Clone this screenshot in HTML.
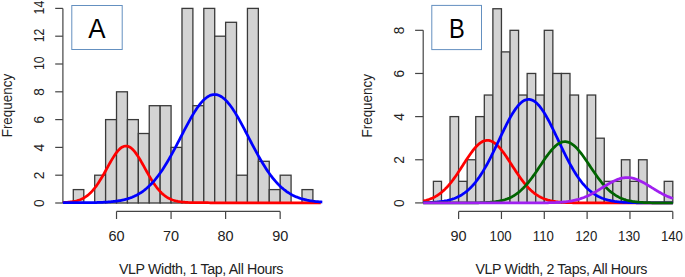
<!DOCTYPE html><html><head><meta charset="utf-8"><style>html,body{margin:0;padding:0;background:#fff;width:685px;height:277px;overflow:hidden}svg{display:block}</style></head><body><svg width="685" height="277" viewBox="0 0 685 277"><g fill="#d3d3d3" stroke="#3a3a3a" stroke-width="1.3"><rect x="73.30" y="189.60" width="10.49" height="13.40"/><rect x="94.70" y="175.20" width="10.91" height="27.80"/><rect x="105.61" y="119.60" width="10.91" height="83.40"/><rect x="116.52" y="91.80" width="10.91" height="111.20"/><rect x="127.43" y="119.60" width="10.91" height="83.40"/><rect x="138.34" y="133.50" width="10.91" height="69.50"/><rect x="149.25" y="105.70" width="10.91" height="97.30"/><rect x="160.16" y="105.70" width="10.91" height="97.30"/><rect x="171.07" y="147.40" width="10.91" height="55.60"/><rect x="181.98" y="8.40" width="10.91" height="194.60"/><rect x="192.89" y="105.70" width="10.91" height="97.30"/><rect x="203.80" y="8.40" width="10.91" height="194.60"/><rect x="214.71" y="36.20" width="10.91" height="166.80"/><rect x="225.62" y="22.30" width="10.91" height="180.70"/><rect x="236.53" y="175.20" width="10.91" height="27.80"/><rect x="247.44" y="8.40" width="10.91" height="194.60"/><rect x="258.35" y="161.30" width="10.91" height="41.70"/><rect x="269.26" y="189.60" width="10.91" height="13.40"/><rect x="280.17" y="175.20" width="10.91" height="27.80"/><rect x="301.99" y="189.60" width="10.91" height="13.40"/></g><g stroke="#444" stroke-width="1.2" fill="none"><path d="M62.9,203.00 V8.40"/><path d="M55.2,203.00 H62.9"/><path d="M55.2,175.20 H62.9"/><path d="M55.2,147.40 H62.9"/><path d="M55.2,119.60 H62.9"/><path d="M55.2,91.80 H62.9"/><path d="M55.2,64.00 H62.9"/><path d="M55.2,36.20 H62.9"/><path d="M55.2,8.40 H62.9"/><path d="M116.52,211.4 H280.17"/><path d="M116.52,211.4 V219.0"/><path d="M171.07,211.4 V219.0"/><path d="M225.62,211.4 V219.0"/><path d="M280.17,211.4 V219.0"/></g><path d="M62.90,202.52 L63.97,202.47 L65.05,202.42 L66.12,202.35 L67.20,202.27 L68.27,202.18 L69.35,202.08 L70.42,201.96 L71.50,201.82 L72.57,201.65 L73.65,201.47 L74.72,201.25 L75.80,201.01 L76.87,200.73 L77.94,200.42 L79.02,200.06 L80.09,199.67 L81.17,199.22 L82.24,198.72 L83.32,198.17 L84.39,197.56 L85.47,196.89 L86.54,196.15 L87.62,195.34 L88.69,194.46 L89.76,193.50 L90.84,192.46 L91.91,191.35 L92.99,190.15 L94.06,188.87 L95.14,187.52 L96.21,186.08 L97.29,184.57 L98.36,182.98 L99.44,181.32 L100.51,179.60 L101.59,177.82 L102.66,175.98 L103.73,174.11 L104.81,172.20 L105.88,170.27 L106.96,168.32 L108.03,166.38 L109.11,164.45 L110.18,162.54 L111.26,160.68 L112.33,158.86 L113.41,157.12 L114.48,155.46 L115.55,153.90 L116.63,152.44 L117.70,151.11 L118.78,149.91 L119.85,148.86 L120.93,147.96 L122.00,147.22 L123.08,146.66 L124.15,146.26 L125.23,146.05 L126.30,146.02 L127.38,146.17 L128.45,146.50 L129.52,147.01 L130.60,147.68 L131.67,148.53 L132.75,149.53 L133.82,150.68 L134.90,151.96 L135.97,153.38 L137.05,154.91 L138.12,156.53 L139.20,158.25 L140.27,160.04 L141.34,161.89 L142.42,163.78 L143.49,165.70 L144.57,167.64 L145.64,169.59 L146.72,171.53 L147.79,173.45 L148.87,175.33 L149.94,177.18 L151.02,178.98 L152.09,180.73 L153.17,182.41 L154.24,184.02 L155.31,185.56 L156.39,187.03 L157.46,188.41 L158.54,189.72 L159.61,190.94 L160.69,192.08 L161.76,193.15 L162.84,194.13 L163.91,195.04 L164.99,195.87 L166.06,196.64 L167.13,197.33 L168.21,197.97 L169.28,198.54 L170.36,199.05 L171.43,199.52 L172.51,199.93 L173.58,200.30 L174.66,200.63 L175.73,200.92 L176.81,201.17 L177.88,201.40 L178.96,201.59 L180.03,201.76 L181.10,201.91 L182.18,202.04 L183.25,202.15 L184.33,202.24 L185.40,202.33 L186.48,202.40 L187.55,202.45 L188.63,202.50 L189.70,202.55 L190.78,202.58 L191.85,202.61 L192.92,202.64 L194.00,202.66 L195.07,202.67 L196.15,202.69 L197.22,202.70 L198.30,202.71 L199.37,202.72 L200.45,202.72 L201.52,202.73 L202.60,202.73 L203.67,202.74 L204.75,202.74 L205.82,202.74 L206.89,202.74 L207.97,202.74 L209.04,202.75 L210.12,202.75 L211.19,202.75 L212.27,202.75 L213.34,202.75 L214.42,202.75 L215.49,202.75 L216.57,202.75 L217.64,202.75 L218.71,202.75 L219.79,202.75 L220.86,202.75 L221.94,202.75 L223.01,202.75 L224.09,202.75 L225.16,202.75 L226.24,202.75 L227.31,202.75 L228.39,202.75 L229.46,202.75 L230.54,202.75 L231.61,202.75 L232.68,202.75 L233.76,202.75 L234.83,202.75 L235.91,202.75 L236.98,202.75 L238.06,202.75 L239.13,202.75 L240.21,202.75 L241.28,202.75 L242.36,202.75 L243.43,202.75 L244.50,202.75 L245.58,202.75 L246.65,202.75 L247.73,202.75 L248.80,202.75 L249.88,202.75 L250.95,202.75 L252.03,202.75 L253.10,202.75 L254.18,202.75 L255.25,202.75 L256.33,202.75 L257.40,202.75 L258.47,202.75 L259.55,202.75 L260.62,202.75 L261.70,202.75 L262.77,202.75 L263.85,202.75 L264.92,202.75 L266.00,202.75 L267.07,202.75 L268.15,202.75 L269.22,202.75 L270.29,202.75 L271.37,202.75 L272.44,202.75 L273.52,202.75 L274.59,202.75 L275.67,202.75 L276.74,202.75 L277.82,202.75 L278.89,202.75 L279.97,202.75 L281.04,202.75 L282.12,202.75 L283.19,202.75 L284.26,202.75 L285.34,202.75 L286.41,202.75 L287.49,202.75 L288.56,202.75 L289.64,202.75 L290.71,202.75 L291.79,202.75 L292.86,202.75 L293.94,202.75 L295.01,202.75 L296.08,202.75 L297.16,202.75 L298.23,202.75 L299.31,202.75 L300.38,202.75 L301.46,202.75 L302.53,202.75 L303.61,202.75 L304.68,202.75 L305.76,202.75 L306.83,202.75 L307.91,202.75 L308.98,202.75 L310.05,202.75 L311.13,202.75 L312.20,202.75 L313.28,202.75 L314.35,202.75 L315.43,202.75 L316.50,202.75 L317.58,202.75 L318.65,202.75 L319.73,202.75 L320.80,202.75" stroke="#f00" stroke-width="2.75" fill="none"/><path d="M62.90,202.75 L63.98,202.74 L65.06,202.74 L66.14,202.74 L67.22,202.74 L68.30,202.74 L69.39,202.74 L70.47,202.74 L71.55,202.74 L72.63,202.73 L73.71,202.73 L74.79,202.73 L75.87,202.73 L76.95,202.72 L78.03,202.72 L79.11,202.71 L80.19,202.71 L81.27,202.70 L82.36,202.70 L83.44,202.69 L84.52,202.68 L85.60,202.67 L86.68,202.66 L87.76,202.65 L88.84,202.64 L89.92,202.63 L91.00,202.61 L92.08,202.60 L93.16,202.58 L94.24,202.56 L95.33,202.53 L96.41,202.51 L97.49,202.48 L98.57,202.45 L99.65,202.41 L100.73,202.37 L101.81,202.33 L102.89,202.28 L103.97,202.23 L105.05,202.17 L106.13,202.11 L107.21,202.04 L108.30,201.97 L109.38,201.89 L110.46,201.80 L111.54,201.70 L112.62,201.59 L113.70,201.48 L114.78,201.35 L115.86,201.21 L116.94,201.06 L118.02,200.90 L119.10,200.73 L120.18,200.54 L121.27,200.33 L122.35,200.11 L123.43,199.87 L124.51,199.62 L125.59,199.34 L126.67,199.04 L127.75,198.73 L128.83,198.38 L129.91,198.02 L130.99,197.63 L132.07,197.21 L133.15,196.76 L134.24,196.29 L135.32,195.78 L136.40,195.25 L137.48,194.68 L138.56,194.07 L139.64,193.43 L140.72,192.75 L141.80,192.04 L142.88,191.28 L143.96,190.49 L145.04,189.65 L146.12,188.77 L147.21,187.84 L148.29,186.87 L149.37,185.85 L150.45,184.79 L151.53,183.68 L152.61,182.52 L153.69,181.31 L154.77,180.06 L155.85,178.75 L156.93,177.40 L158.01,176.00 L159.09,174.54 L160.18,173.04 L161.26,171.49 L162.34,169.90 L163.42,168.25 L164.50,166.57 L165.58,164.83 L166.66,163.06 L167.74,161.25 L168.82,159.39 L169.90,157.50 L170.98,155.58 L172.06,153.62 L173.15,151.64 L174.23,149.62 L175.31,147.59 L176.39,145.54 L177.47,143.47 L178.55,141.38 L179.63,139.29 L180.71,137.20 L181.79,135.10 L182.87,133.01 L183.95,130.93 L185.03,128.86 L186.12,126.81 L187.20,124.78 L188.28,122.78 L189.36,120.81 L190.44,118.88 L191.52,116.99 L192.60,115.15 L193.68,113.36 L194.76,111.62 L195.84,109.95 L196.92,108.34 L198.00,106.80 L199.09,105.34 L200.17,103.95 L201.25,102.65 L202.33,101.43 L203.41,100.31 L204.49,99.27 L205.57,98.33 L206.65,97.49 L207.73,96.75 L208.81,96.12 L209.89,95.59 L210.97,95.17 L212.06,94.86 L213.14,94.65 L214.22,94.56 L215.30,94.57 L216.38,94.70 L217.46,94.94 L218.54,95.28 L219.62,95.73 L220.70,96.29 L221.78,96.96 L222.86,97.73 L223.94,98.59 L225.03,99.56 L226.11,100.62 L227.19,101.78 L228.27,103.02 L229.35,104.35 L230.43,105.76 L231.51,107.24 L232.59,108.80 L233.67,110.43 L234.75,112.12 L235.83,113.87 L236.91,115.68 L238.00,117.54 L239.08,119.44 L240.16,121.38 L241.24,123.36 L242.32,125.37 L243.40,127.41 L244.48,129.46 L245.56,131.54 L246.64,133.62 L247.72,135.71 L248.80,137.81 L249.88,139.90 L250.97,141.99 L252.05,144.07 L253.13,146.13 L254.21,148.18 L255.29,150.21 L256.37,152.21 L257.45,154.19 L258.53,156.14 L259.61,158.05 L260.69,159.93 L261.77,161.78 L262.85,163.58 L263.94,165.34 L265.02,167.06 L266.10,168.74 L267.18,170.37 L268.26,171.95 L269.34,173.48 L270.42,174.97 L271.50,176.41 L272.58,177.80 L273.66,179.14 L274.74,180.43 L275.82,181.67 L276.91,182.86 L277.99,184.01 L279.07,185.10 L280.15,186.15 L281.23,187.16 L282.31,188.11 L283.39,189.03 L284.47,189.90 L285.55,190.72 L286.63,191.51 L287.71,192.25 L288.79,192.95 L289.88,193.62 L290.96,194.25 L292.04,194.85 L293.12,195.41 L294.20,195.93 L295.28,196.43 L296.36,196.90 L297.44,197.33 L298.52,197.74 L299.60,198.13 L300.68,198.49 L301.76,198.82 L302.85,199.13 L303.93,199.42 L305.01,199.69 L306.09,199.94 L307.17,200.18 L308.25,200.39 L309.33,200.59 L310.41,200.78 L311.49,200.95 L312.57,201.11 L313.65,201.25 L314.73,201.39 L315.81,201.51 L316.90,201.63 L317.98,201.73 L319.06,201.82 L320.14,201.91 L321.22,201.99 L322.30,202.06" stroke="#00f" stroke-width="2.75" fill="none"/><g fill="#d3d3d3" stroke="#3a3a3a" stroke-width="1.3"><rect x="433.40" y="181.34" width="8.08" height="21.57"/><rect x="450.04" y="116.61" width="8.57" height="86.30"/><rect x="458.61" y="181.34" width="8.57" height="21.57"/><rect x="467.18" y="159.76" width="8.57" height="43.15"/><rect x="475.74" y="116.61" width="8.57" height="86.30"/><rect x="484.31" y="95.04" width="8.57" height="107.87"/><rect x="492.88" y="8.74" width="8.57" height="194.17"/><rect x="501.45" y="51.89" width="8.57" height="151.02"/><rect x="510.01" y="30.32" width="8.57" height="172.59"/><rect x="518.58" y="95.04" width="8.57" height="107.87"/><rect x="527.15" y="73.47" width="8.57" height="129.44"/><rect x="535.72" y="95.04" width="8.57" height="107.87"/><rect x="544.28" y="30.32" width="8.57" height="172.59"/><rect x="552.85" y="73.47" width="8.57" height="129.44"/><rect x="561.42" y="73.47" width="8.57" height="129.44"/><rect x="569.99" y="95.04" width="8.57" height="107.87"/><rect x="587.12" y="95.04" width="8.57" height="107.87"/><rect x="595.69" y="138.19" width="8.57" height="64.72"/><rect x="604.26" y="181.34" width="8.57" height="21.57"/><rect x="612.82" y="181.34" width="8.57" height="21.57"/><rect x="621.39" y="159.76" width="8.57" height="43.15"/><rect x="629.96" y="181.34" width="8.57" height="21.57"/><rect x="638.53" y="159.76" width="8.57" height="43.15"/><rect x="664.23" y="181.34" width="8.57" height="21.57"/></g><g stroke="#444" stroke-width="1.2" fill="none"><path d="M423.2,202.91 V30.32"/><path d="M415.1,202.91 H423.2"/><path d="M415.1,159.76 H423.2"/><path d="M415.1,116.61 H423.2"/><path d="M415.1,73.47 H423.2"/><path d="M415.1,30.32 H423.2"/><path d="M458.61,211.4 H672.79"/><path d="M458.61,211.4 V219.0"/><path d="M501.45,211.4 V219.0"/><path d="M544.28,211.4 V219.0"/><path d="M587.12,211.4 V219.0"/><path d="M629.96,211.4 V219.0"/><path d="M672.79,211.4 V219.0"/></g><path d="M423.20,200.96 L424.24,200.74 L425.28,200.48 L426.32,200.21 L427.36,199.91 L428.40,199.58 L429.44,199.22 L430.48,198.83 L431.52,198.40 L432.56,197.95 L433.60,197.45 L434.64,196.92 L435.69,196.34 L436.73,195.73 L437.77,195.07 L438.81,194.36 L439.85,193.61 L440.89,192.81 L441.93,191.96 L442.97,191.06 L444.01,190.12 L445.05,189.12 L446.09,188.07 L447.13,186.97 L448.17,185.82 L449.21,184.61 L450.25,183.37 L451.29,182.07 L452.33,180.73 L453.37,179.34 L454.41,177.91 L455.45,176.45 L456.49,174.95 L457.53,173.42 L458.57,171.86 L459.61,170.28 L460.65,168.68 L461.70,167.07 L462.74,165.45 L463.78,163.83 L464.82,162.21 L465.86,160.61 L466.90,159.02 L467.94,157.45 L468.98,155.92 L470.02,154.42 L471.06,152.96 L472.10,151.56 L473.14,150.21 L474.18,148.92 L475.22,147.70 L476.26,146.56 L477.30,145.50 L478.34,144.53 L479.38,143.65 L480.42,142.87 L481.46,142.18 L482.50,141.60 L483.54,141.13 L484.58,140.77 L485.62,140.52 L486.67,140.38 L487.71,140.35 L488.75,140.45 L489.79,140.65 L490.83,140.97 L491.87,141.39 L492.91,141.93 L493.95,142.57 L494.99,143.32 L496.03,144.16 L497.07,145.09 L498.11,146.12 L499.15,147.22 L500.19,148.41 L501.23,149.67 L502.27,150.99 L503.31,152.38 L504.35,153.81 L505.39,155.29 L506.43,156.82 L507.47,158.37 L508.51,159.95 L509.55,161.55 L510.59,163.16 L511.64,164.78 L512.68,166.40 L513.72,168.02 L514.76,169.62 L515.80,171.21 L516.84,172.78 L517.88,174.32 L518.92,175.83 L519.96,177.31 L521.00,178.76 L522.04,180.16 L523.08,181.52 L524.12,182.84 L525.16,184.11 L526.20,185.33 L527.24,186.50 L528.28,187.62 L529.32,188.69 L530.36,189.71 L531.40,190.68 L532.44,191.60 L533.48,192.47 L534.52,193.29 L535.56,194.06 L536.61,194.78 L537.65,195.46 L538.69,196.09 L539.73,196.68 L540.77,197.24 L541.81,197.75 L542.85,198.22 L543.89,198.66 L544.93,199.06 L545.97,199.43 L547.01,199.77 L548.05,200.09 L549.09,200.37 L550.13,200.64 L551.17,200.87 L552.21,201.09 L553.25,201.29 L554.29,201.46 L555.33,201.62 L556.37,201.77 L557.41,201.90 L558.45,202.01 L559.49,202.12 L560.53,202.21 L561.58,202.30 L562.62,202.37 L563.66,202.44 L564.70,202.49 L565.74,202.55 L566.78,202.59 L567.82,202.63 L568.86,202.67 L569.90,202.70 L570.94,202.73 L571.98,202.75 L573.02,202.77 L574.06,202.79 L575.10,202.80 L576.14,202.82 L577.18,202.83 L578.22,202.84 L579.26,202.85 L580.30,202.86 L581.34,202.86 L582.38,202.87 L583.42,202.87 L584.46,202.88 L585.50,202.88 L586.55,202.88 L587.59,202.89 L588.63,202.89 L589.67,202.89 L590.71,202.89 L591.75,202.89 L592.79,202.89 L593.83,202.90 L594.87,202.90 L595.91,202.90 L596.95,202.90 L597.99,202.90 L599.03,202.90 L600.07,202.90 L601.11,202.90 L602.15,202.90 L603.19,202.90 L604.23,202.90 L605.27,202.90 L606.31,202.90 L607.35,202.90 L608.39,202.90 L609.43,202.90 L610.48,202.90 L611.52,202.90 L612.56,202.90 L613.60,202.90 L614.64,202.90 L615.68,202.90 L616.72,202.90 L617.76,202.90 L618.80,202.90 L619.84,202.90 L620.88,202.90 L621.92,202.90 L622.96,202.90 L624.00,202.90 L625.04,202.90 L626.08,202.90 L627.12,202.90 L628.16,202.90 L629.20,202.90 L630.24,202.90 L631.28,202.90 L632.32,202.90 L633.36,202.90 L634.40,202.90 L635.44,202.90 L636.49,202.90 L637.53,202.90 L638.57,202.90 L639.61,202.90 L640.65,202.90 L641.69,202.90 L642.73,202.90 L643.77,202.90 L644.81,202.90 L645.85,202.90 L646.89,202.90 L647.93,202.90 L648.97,202.90 L650.01,202.90 L651.05,202.90 L652.09,202.90 L653.13,202.90 L654.17,202.90 L655.21,202.90 L656.25,202.90 L657.29,202.90 L658.33,202.90 L659.37,202.90 L660.41,202.90 L661.46,202.90 L662.50,202.90 L663.54,202.90 L664.58,202.90 L665.62,202.90 L666.66,202.90 L667.70,202.90 L668.74,202.90 L669.78,202.90 L670.82,202.90 L671.86,202.90 L672.90,202.90" stroke="#f00" stroke-width="2.75" fill="none"/><path d="M423.20,202.72 L424.24,202.69 L425.28,202.67 L426.32,202.64 L427.36,202.60 L428.40,202.56 L429.44,202.52 L430.48,202.47 L431.52,202.42 L432.56,202.36 L433.60,202.30 L434.64,202.23 L435.69,202.15 L436.73,202.06 L437.77,201.97 L438.81,201.86 L439.85,201.74 L440.89,201.62 L441.93,201.48 L442.97,201.32 L444.01,201.16 L445.05,200.97 L446.09,200.77 L447.13,200.56 L448.17,200.32 L449.21,200.06 L450.25,199.78 L451.29,199.48 L452.33,199.16 L453.37,198.80 L454.41,198.42 L455.45,198.01 L456.49,197.57 L457.53,197.10 L458.57,196.60 L459.61,196.05 L460.65,195.47 L461.70,194.85 L462.74,194.19 L463.78,193.49 L464.82,192.75 L465.86,191.95 L466.90,191.11 L467.94,190.23 L468.98,189.29 L470.02,188.30 L471.06,187.26 L472.10,186.16 L473.14,185.01 L474.18,183.80 L475.22,182.54 L476.26,181.22 L477.30,179.85 L478.34,178.41 L479.38,176.92 L480.42,175.38 L481.46,173.77 L482.50,172.12 L483.54,170.40 L484.58,168.64 L485.62,166.82 L486.67,164.96 L487.71,163.05 L488.75,161.09 L489.79,159.09 L490.83,157.05 L491.87,154.98 L492.91,152.87 L493.95,150.74 L494.99,148.58 L496.03,146.40 L497.07,144.21 L498.11,142.01 L499.15,139.81 L500.19,137.60 L501.23,135.40 L502.27,133.21 L503.31,131.05 L504.35,128.90 L505.39,126.79 L506.43,124.71 L507.47,122.67 L508.51,120.68 L509.55,118.75 L510.59,116.88 L511.64,115.08 L512.68,113.34 L513.72,111.69 L514.76,110.12 L515.80,108.64 L516.84,107.26 L517.88,105.97 L518.92,104.79 L519.96,103.72 L521.00,102.76 L522.04,101.91 L523.08,101.18 L524.12,100.58 L525.16,100.10 L526.20,99.74 L527.24,99.51 L528.28,99.41 L529.32,99.43 L530.36,99.58 L531.40,99.86 L532.44,100.27 L533.48,100.80 L534.52,101.45 L535.56,102.23 L536.61,103.12 L537.65,104.12 L538.69,105.24 L539.73,106.46 L540.77,107.78 L541.81,109.21 L542.85,110.72 L543.89,112.32 L544.93,114.01 L545.97,115.77 L547.01,117.60 L548.05,119.50 L549.09,121.45 L550.13,123.46 L551.17,125.51 L552.21,127.60 L553.25,129.73 L554.29,131.89 L555.33,134.06 L556.37,136.26 L557.41,138.46 L558.45,140.66 L559.49,142.87 L560.53,145.07 L561.58,147.25 L562.62,149.42 L563.66,151.57 L564.70,153.69 L565.74,155.79 L566.78,157.85 L567.82,159.87 L568.86,161.86 L569.90,163.80 L570.94,165.69 L571.98,167.54 L573.02,169.33 L574.06,171.08 L575.10,172.77 L576.14,174.40 L577.18,175.98 L578.22,177.51 L579.26,178.98 L580.30,180.39 L581.34,181.74 L582.38,183.04 L583.42,184.28 L584.46,185.46 L585.50,186.59 L586.55,187.67 L587.59,188.69 L588.63,189.66 L589.67,190.58 L590.71,191.45 L591.75,192.27 L592.79,193.04 L593.83,193.77 L594.87,194.46 L595.91,195.10 L596.95,195.70 L597.99,196.27 L599.03,196.80 L600.07,197.29 L601.11,197.75 L602.15,198.18 L603.19,198.58 L604.23,198.94 L605.27,199.29 L606.31,199.60 L607.35,199.90 L608.39,200.17 L609.43,200.41 L610.48,200.64 L611.52,200.85 L612.56,201.05 L613.60,201.22 L614.64,201.39 L615.68,201.53 L616.72,201.67 L617.76,201.79 L618.80,201.90 L619.84,202.01 L620.88,202.10 L621.92,202.18 L622.96,202.26 L624.00,202.33 L625.04,202.39 L626.08,202.44 L627.12,202.49 L628.16,202.54 L629.20,202.58 L630.24,202.62 L631.28,202.65 L632.32,202.68 L633.36,202.70 L634.40,202.73 L635.44,202.75 L636.49,202.77 L637.53,202.78 L638.57,202.80 L639.61,202.81 L640.65,202.82 L641.69,202.83 L642.73,202.84 L643.77,202.85 L644.81,202.85 L645.85,202.86 L646.89,202.86 L647.93,202.87 L648.97,202.87 L650.01,202.88 L651.05,202.88 L652.09,202.88 L653.13,202.89 L654.17,202.89 L655.21,202.89 L656.25,202.89 L657.29,202.89 L658.33,202.89 L659.37,202.89 L660.41,202.89 L661.46,202.90 L662.50,202.90 L663.54,202.90 L664.58,202.90 L665.62,202.90 L666.66,202.90 L667.70,202.90 L668.74,202.90 L669.78,202.90 L670.82,202.90 L671.86,202.90 L672.90,202.90" stroke="#00f" stroke-width="2.75" fill="none"/><path d="M423.20,202.90 L424.24,202.90 L425.28,202.90 L426.32,202.90 L427.36,202.90 L428.40,202.90 L429.44,202.90 L430.48,202.90 L431.52,202.90 L432.56,202.90 L433.60,202.90 L434.64,202.90 L435.69,202.90 L436.73,202.90 L437.77,202.90 L438.81,202.90 L439.85,202.90 L440.89,202.90 L441.93,202.90 L442.97,202.90 L444.01,202.90 L445.05,202.90 L446.09,202.90 L447.13,202.90 L448.17,202.90 L449.21,202.90 L450.25,202.90 L451.29,202.90 L452.33,202.90 L453.37,202.90 L454.41,202.90 L455.45,202.90 L456.49,202.90 L457.53,202.90 L458.57,202.89 L459.61,202.89 L460.65,202.89 L461.70,202.89 L462.74,202.89 L463.78,202.89 L464.82,202.88 L465.86,202.88 L466.90,202.88 L467.94,202.87 L468.98,202.87 L470.02,202.86 L471.06,202.85 L472.10,202.85 L473.14,202.84 L474.18,202.83 L475.22,202.81 L476.26,202.80 L477.30,202.78 L478.34,202.77 L479.38,202.75 L480.42,202.72 L481.46,202.69 L482.50,202.66 L483.54,202.63 L484.58,202.59 L485.62,202.54 L486.67,202.49 L487.71,202.43 L488.75,202.37 L489.79,202.30 L490.83,202.21 L491.87,202.12 L492.91,202.02 L493.95,201.91 L494.99,201.78 L496.03,201.64 L497.07,201.48 L498.11,201.31 L499.15,201.12 L500.19,200.91 L501.23,200.68 L502.27,200.43 L503.31,200.16 L504.35,199.86 L505.39,199.53 L506.43,199.17 L507.47,198.79 L508.51,198.37 L509.55,197.92 L510.59,197.43 L511.64,196.91 L512.68,196.34 L513.72,195.74 L514.76,195.10 L515.80,194.41 L516.84,193.68 L517.88,192.90 L518.92,192.08 L519.96,191.21 L521.00,190.29 L522.04,189.32 L523.08,188.31 L524.12,187.24 L525.16,186.13 L526.20,184.97 L527.24,183.77 L528.28,182.52 L529.32,181.23 L530.36,179.90 L531.40,178.52 L532.44,177.11 L533.48,175.67 L534.52,174.20 L535.56,172.70 L536.61,171.18 L537.65,169.64 L538.69,168.09 L539.73,166.54 L540.77,164.97 L541.81,163.42 L542.85,161.87 L543.89,160.33 L544.93,158.81 L545.97,157.33 L547.01,155.87 L548.05,154.45 L549.09,153.08 L550.13,151.76 L551.17,150.50 L552.21,149.30 L553.25,148.18 L554.29,147.12 L555.33,146.15 L556.37,145.26 L557.41,144.46 L558.45,143.76 L559.49,143.15 L560.53,142.64 L561.58,142.23 L562.62,141.93 L563.66,141.74 L564.70,141.65 L565.74,141.68 L566.78,141.81 L567.82,142.05 L568.86,142.39 L569.90,142.84 L570.94,143.39 L571.98,144.04 L573.02,144.78 L574.06,145.62 L575.10,146.54 L576.14,147.55 L577.18,148.64 L578.22,149.80 L579.26,151.02 L580.30,152.31 L581.34,153.65 L582.38,155.04 L583.42,156.47 L584.46,157.94 L585.50,159.44 L586.55,160.97 L587.59,162.51 L588.63,164.06 L589.67,165.62 L590.71,167.19 L591.75,168.74 L592.79,170.29 L593.83,171.82 L594.87,173.33 L595.91,174.82 L596.95,176.28 L597.99,177.71 L599.03,179.10 L600.07,180.46 L601.11,181.77 L602.15,183.05 L603.19,184.28 L604.23,185.46 L605.27,186.60 L606.31,187.69 L607.35,188.74 L608.39,189.73 L609.43,190.68 L610.48,191.58 L611.52,192.43 L612.56,193.23 L613.60,193.99 L614.64,194.70 L615.68,195.37 L616.72,196.00 L617.76,196.58 L618.80,197.13 L619.84,197.64 L620.88,198.11 L621.92,198.55 L622.96,198.95 L624.00,199.33 L625.04,199.67 L626.08,199.99 L627.12,200.28 L628.16,200.54 L629.20,200.78 L630.24,201.00 L631.28,201.20 L632.32,201.39 L633.36,201.55 L634.40,201.70 L635.44,201.83 L636.49,201.95 L637.53,202.06 L638.57,202.16 L639.61,202.25 L640.65,202.33 L641.69,202.40 L642.73,202.46 L643.77,202.51 L644.81,202.56 L645.85,202.60 L646.89,202.64 L647.93,202.68 L648.97,202.71 L650.01,202.73 L651.05,202.75 L652.09,202.77 L653.13,202.79 L654.17,202.81 L655.21,202.82 L656.25,202.83 L657.29,202.84 L658.33,202.85 L659.37,202.86 L660.41,202.86 L661.46,202.87 L662.50,202.87 L663.54,202.88 L664.58,202.88 L665.62,202.88 L666.66,202.89 L667.70,202.89 L668.74,202.89 L669.78,202.89 L670.82,202.89 L671.86,202.89 L672.90,202.90" stroke="#006400" stroke-width="2.75" fill="none"/><path d="M423.20,202.90 L424.24,202.90 L425.28,202.90 L426.32,202.90 L427.36,202.90 L428.40,202.90 L429.44,202.90 L430.48,202.90 L431.52,202.90 L432.56,202.90 L433.60,202.90 L434.64,202.90 L435.69,202.90 L436.73,202.90 L437.77,202.90 L438.81,202.90 L439.85,202.90 L440.89,202.90 L441.93,202.90 L442.97,202.90 L444.01,202.90 L445.05,202.90 L446.09,202.90 L447.13,202.90 L448.17,202.90 L449.21,202.90 L450.25,202.90 L451.29,202.90 L452.33,202.90 L453.37,202.90 L454.41,202.90 L455.45,202.90 L456.49,202.90 L457.53,202.90 L458.57,202.90 L459.61,202.90 L460.65,202.90 L461.70,202.90 L462.74,202.90 L463.78,202.90 L464.82,202.90 L465.86,202.90 L466.90,202.90 L467.94,202.90 L468.98,202.90 L470.02,202.90 L471.06,202.90 L472.10,202.90 L473.14,202.90 L474.18,202.90 L475.22,202.90 L476.26,202.90 L477.30,202.90 L478.34,202.90 L479.38,202.90 L480.42,202.90 L481.46,202.90 L482.50,202.90 L483.54,202.90 L484.58,202.90 L485.62,202.90 L486.67,202.90 L487.71,202.90 L488.75,202.90 L489.79,202.90 L490.83,202.90 L491.87,202.90 L492.91,202.90 L493.95,202.90 L494.99,202.90 L496.03,202.90 L497.07,202.90 L498.11,202.90 L499.15,202.90 L500.19,202.90 L501.23,202.90 L502.27,202.90 L503.31,202.90 L504.35,202.90 L505.39,202.90 L506.43,202.90 L507.47,202.90 L508.51,202.90 L509.55,202.90 L510.59,202.90 L511.64,202.90 L512.68,202.90 L513.72,202.90 L514.76,202.90 L515.80,202.90 L516.84,202.90 L517.88,202.90 L518.92,202.90 L519.96,202.90 L521.00,202.90 L522.04,202.90 L523.08,202.90 L524.12,202.90 L525.16,202.90 L526.20,202.89 L527.24,202.89 L528.28,202.89 L529.32,202.89 L530.36,202.89 L531.40,202.89 L532.44,202.88 L533.48,202.88 L534.52,202.88 L535.56,202.88 L536.61,202.87 L537.65,202.87 L538.69,202.86 L539.73,202.85 L540.77,202.85 L541.81,202.84 L542.85,202.83 L543.89,202.82 L544.93,202.80 L545.97,202.79 L547.01,202.77 L548.05,202.76 L549.09,202.73 L550.13,202.71 L551.17,202.68 L552.21,202.65 L553.25,202.62 L554.29,202.58 L555.33,202.54 L556.37,202.49 L557.41,202.44 L558.45,202.38 L559.49,202.32 L560.53,202.25 L561.58,202.17 L562.62,202.09 L563.66,201.99 L564.70,201.89 L565.74,201.77 L566.78,201.65 L567.82,201.51 L568.86,201.37 L569.90,201.21 L570.94,201.03 L571.98,200.84 L573.02,200.64 L574.06,200.42 L575.10,200.19 L576.14,199.94 L577.18,199.67 L578.22,199.39 L579.26,199.08 L580.30,198.76 L581.34,198.41 L582.38,198.05 L583.42,197.67 L584.46,197.27 L585.50,196.84 L586.55,196.40 L587.59,195.94 L588.63,195.45 L589.67,194.95 L590.71,194.43 L591.75,193.89 L592.79,193.34 L593.83,192.76 L594.87,192.18 L595.91,191.58 L596.95,190.96 L597.99,190.34 L599.03,189.71 L600.07,189.07 L601.11,188.42 L602.15,187.77 L603.19,187.12 L604.23,186.48 L605.27,185.83 L606.31,185.20 L607.35,184.57 L608.39,183.95 L609.43,183.35 L610.48,182.77 L611.52,182.20 L612.56,181.66 L613.60,181.14 L614.64,180.65 L615.68,180.19 L616.72,179.76 L617.76,179.36 L618.80,179.00 L619.84,178.68 L620.88,178.40 L621.92,178.15 L622.96,177.96 L624.00,177.80 L625.04,177.69 L626.08,177.62 L627.12,177.60 L628.16,177.62 L629.20,177.69 L630.24,177.81 L631.28,177.96 L632.32,178.16 L633.36,178.41 L634.40,178.69 L635.44,179.01 L636.49,179.38 L637.53,179.77 L638.57,180.20 L639.61,180.67 L640.65,181.16 L641.69,181.68 L642.73,182.22 L643.77,182.79 L644.81,183.37 L645.85,183.98 L646.89,184.59 L647.93,185.22 L648.97,185.86 L650.01,186.50 L651.05,187.15 L652.09,187.80 L653.13,188.45 L654.17,189.09 L655.21,189.73 L656.25,190.36 L657.29,190.99 L658.33,191.60 L659.37,192.20 L660.41,192.79 L661.46,193.36 L662.50,193.91 L663.54,194.45 L664.58,194.97 L665.62,195.47 L666.66,195.96 L667.70,196.42 L668.74,196.86 L669.78,197.28 L670.82,197.68 L671.86,198.07 L672.90,198.43" stroke="#a020f0" stroke-width="2.75" fill="none"/><g font-family="Liberation Sans" fill="#222"><text transform="translate(116.52,240.80) scale(0.965,1)" font-size="15.0" text-anchor="middle">60</text><text transform="translate(171.07,240.80) scale(0.965,1)" font-size="15.0" text-anchor="middle">70</text><text transform="translate(225.62,240.80) scale(0.965,1)" font-size="15.0" text-anchor="middle">80</text><text transform="translate(280.17,240.80) scale(0.965,1)" font-size="15.0" text-anchor="middle">90</text><text transform="translate(44.30,203.20) rotate(-90) scale(0.95,1)" font-size="14.5" text-anchor="middle">0</text><text transform="translate(44.30,175.40) rotate(-90) scale(0.95,1)" font-size="14.5" text-anchor="middle">2</text><text transform="translate(44.30,147.60) rotate(-90) scale(0.95,1)" font-size="14.5" text-anchor="middle">4</text><text transform="translate(44.30,119.80) rotate(-90) scale(0.95,1)" font-size="14.5" text-anchor="middle">6</text><text transform="translate(44.30,92.00) rotate(-90) scale(0.95,1)" font-size="14.5" text-anchor="middle">8</text><text transform="translate(44.30,63.20) rotate(-90) scale(0.85,1)" font-size="14.5" text-anchor="middle">10</text><text transform="translate(44.30,35.40) rotate(-90) scale(0.85,1)" font-size="14.5" text-anchor="middle">12</text><text transform="translate(44.30,7.60) rotate(-90) scale(0.85,1)" font-size="14.5" text-anchor="middle">14</text><text transform="translate(11.80,105.60) rotate(-90) scale(0.92,1)" font-size="14.6" text-anchor="middle">Frequency</text><text transform="translate(201.20,273.60) scale(0.93,1)" font-size="15.3" text-anchor="middle" textLength="176.88" lengthAdjust="spacing">VLP Width, 1 Tap, All Hours</text><text transform="translate(458.61,240.80) scale(0.965,1)" font-size="15.0" text-anchor="middle">90</text><text transform="translate(500.55,240.80) scale(0.88,1)" font-size="15.0" text-anchor="middle">100</text><text transform="translate(543.38,240.80) scale(0.88,1)" font-size="15.0" text-anchor="middle">110</text><text transform="translate(586.22,240.80) scale(0.88,1)" font-size="15.0" text-anchor="middle">120</text><text transform="translate(629.06,240.80) scale(0.88,1)" font-size="15.0" text-anchor="middle">130</text><text transform="translate(671.89,240.80) scale(0.88,1)" font-size="15.0" text-anchor="middle">140</text><text transform="translate(403.90,203.11) rotate(-90) scale(0.95,1)" font-size="14.5" text-anchor="middle">0</text><text transform="translate(403.90,159.96) rotate(-90) scale(0.95,1)" font-size="14.5" text-anchor="middle">2</text><text transform="translate(403.90,116.81) rotate(-90) scale(0.95,1)" font-size="14.5" text-anchor="middle">4</text><text transform="translate(403.90,73.67) rotate(-90) scale(0.95,1)" font-size="14.5" text-anchor="middle">6</text><text transform="translate(403.90,30.52) rotate(-90) scale(0.95,1)" font-size="14.5" text-anchor="middle">8</text><text transform="translate(372.40,105.80) rotate(-90) scale(0.92,1)" font-size="14.6" text-anchor="middle">Frequency</text><text transform="translate(561.40,273.50) scale(0.93,1)" font-size="15.3" text-anchor="middle" textLength="184.95" lengthAdjust="spacing">VLP Width, 2 Taps, All Hours</text></g><rect x="71.8" y="5.5" width="50.4" height="44.0" fill="#fff" stroke="#6490c0" stroke-width="1"/><rect x="431.8" y="5.4" width="49.7" height="44.2" fill="#fff" stroke="#6490c0" stroke-width="1"/><text transform="translate(96.8,37.8) scale(0.91,1)" font-family="Liberation Sans" font-size="28.5" text-anchor="middle" fill="#000">A</text><text transform="translate(456.8,37.6) scale(0.83,1)" font-family="Liberation Sans" font-size="28.5" text-anchor="middle" fill="#000">B</text></svg></body></html>
